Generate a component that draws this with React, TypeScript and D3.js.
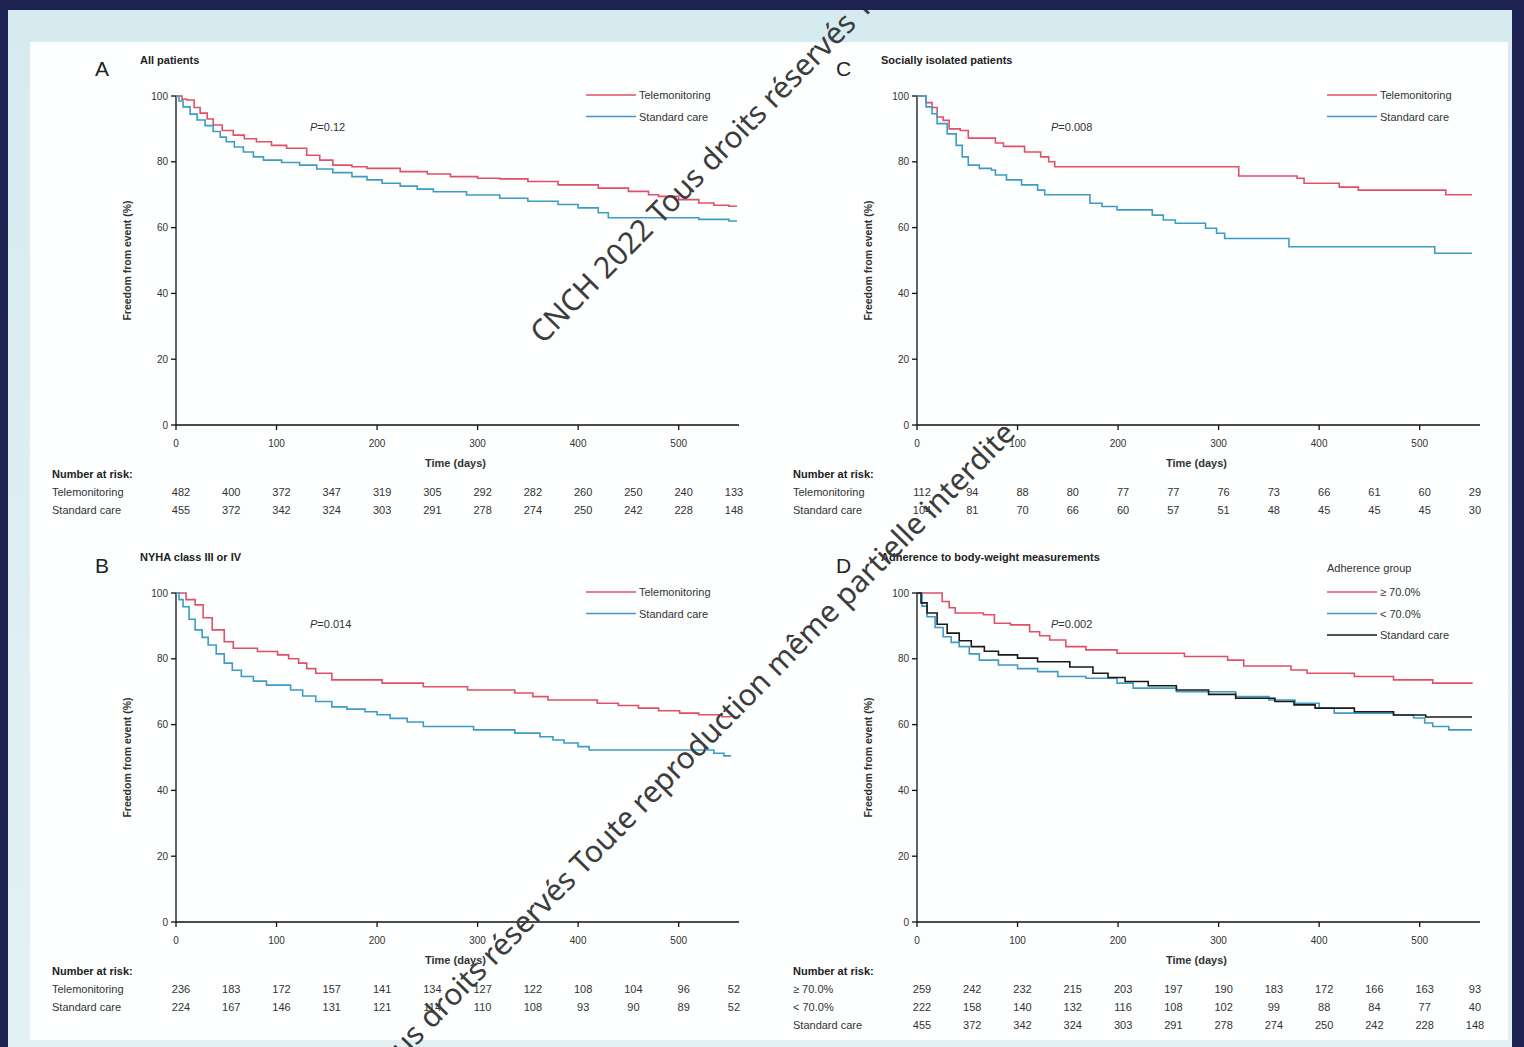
import React from "react";
import * as d3 from "d3";

// ---------- data ----------
const riskDays = [0, 50, 100, 150, 200, 250, 300, 350, 400, 450, 500, 550];
const timeTicks = [0, 100, 200, 300, 400, 500];
const pctTicks = [0, 20, 40, 60, 80, 100];

type Pt = [number, number];

// Panel A – all patients
const aTele: Pt[] = [[0,100],[6,99],[11,98.8],[18,96.5],[24,94.8],[31,93],[37,91.2],[46,89.5],[57,88.1],[68,87],[80,86.1],[95,85],[110,84.1],[130,82],[143,80.5],[156,79],[175,78.5],[190,78],[223,77],[250,76.3],[273,75.5],[300,75],[322,74.8],[350,74],[380,73],[420,72],[450,71],[470,70],[480,69.5],[500,68.5],[520,67.5],[535,66.8],[550,66.5],[558,66.5]];
const aStd: Pt[] = [[0,100],[3,98.5],[7,96.7],[14,94.5],[21,92.7],[29,91],[37,89.2],[44,87.5],[50,86.1],[58,84.5],[67,83],[77,81.5],[87,80.5],[105,79.8],[123,79],[140,77.8],[156,76.7],[175,75.5],[190,74.5],[205,73.5],[223,72.6],[240,71.7],[256,70.9],[289,69.9],[322,68.9],[350,68],[380,67],[400,66],[420,64.5],[430,63],[500,63],[520,62.5],[550,62],[558,62]];

// Panel B – NYHA class III or IV
const bTele: Pt[] = [[0,100],[10,98],[19,96.4],[27,92.5],[36,88.8],[48,85.2],[57,83.2],[81,82.2],[101,81.2],[112,80],[122,78.7],[130,77],[139,75.6],[155,73.6],[205,72.6],[246,71.5],[290,70.5],[337,69.6],[355,68.5],[370,67.5],[419,66.5],[440,65.8],[460,65],[480,64.2],[501,63.5],[520,63],[543,62.4],[552,62.4]];
const bStd: Pt[] = [[0,100],[3,98],[7,95.8],[13,92],[19,88.8],[26,86.5],[32,84.2],[40,81.5],[48,78.7],[56,76.5],[65,74.6],[77,73.2],[90,72],[114,70.5],[126,68.7],[139,67],[155,65.4],[170,64.7],[188,63.9],[200,63],[213,61.9],[230,60.8],[246,59.4],[296,58.4],[337,57.4],[362,56.3],[375,55.3],[386,54.4],[400,53.3],[411,52.3],[535,51.3],[545,50.5],[552,50.5]];

// Panel C – socially isolated patients
const cTele: Pt[] = [[0,100],[9,98],[15,96.5],[20,93.6],[26,92.6],[32,90],[43,89.5],[51,87.2],[78,85.7],[86,84.7],[107,83],[123,81.5],[131,80],[137,78.5],[317,78.5],[320,75.7],[378,75],[385,73.5],[420,72.3],[439,71.4],[526,70],[552,70]];
const cStd: Pt[] = [[0,100],[9,96.7],[15,94.6],[20,91.6],[30,88.5],[39,85],[45,81.5],[51,79],[62,78],[74,77.5],[78,76],[89,74.5],[104,73],[120,71.4],[127,70],[172,67.4],[184,66.4],[199,65.4],[234,63.8],[245,62.3],[257,61.3],[287,59.8],[298,58.3],[306,56.7],[370,54.2],[515,52.2],[552,52.2]];

// Panel D – adherence to body-weight measurements
const dHigh: Pt[] = [[0,100],[25,97.4],[32,95.5],[38,93.9],[66,93.4],[77,90.8],[93,90.3],[112,88.2],[122,87],[132,85.7],[148,83.7],[168,82.7],[199,81.7],[266,80.7],[309,79.6],[325,77.8],[372,76.6],[388,75.6],[435,74.6],[474,73.6],[513,72.6],[552,72.4]];
const dLow: Pt[] = [[0,100],[5,96],[10,92.8],[18,89.5],[26,86.7],[34,85],[42,83.7],[52,81.5],[62,79.6],[81,78.1],[100,77],[120,76.1],[140,74.6],[168,74.1],[199,72.6],[215,71.1],[258,70],[317,68.5],[350,67.5],[376,66.5],[400,65],[415,63.5],[474,62.9],[494,62],[505,60.5],[513,59.4],[529,58.4],[552,58.4]];
const dStd: Pt[] = [[0,100],[4,97],[10,93.9],[20,90.5],[30,87.8],[42,85.5],[54,83.7],[67,82.3],[81,81.2],[100,80.2],[120,79.1],[152,77.5],[175,75.6],[190,74.3],[207,73.1],[230,71.8],[258,70.5],[290,69.2],[317,68],[356,67],[375,66],[396,65],[435,63.9],[474,62.9],[506,62.3],[552,62.3]];

// Numbers at risk
const riskATele = [482, 400, 372, 347, 319, 305, 292, 282, 260, 250, 240, 133];
const riskAStd = [455, 372, 342, 324, 303, 291, 278, 274, 250, 242, 228, 148];
const riskBTele = [236, 183, 172, 157, 141, 134, 127, 122, 108, 104, 96, 52];
const riskBStd = [224, 167, 146, 131, 121, 114, 110, 108, 93, 90, 89, 52];
const riskCTele = [112, 94, 88, 80, 77, 77, 76, 73, 66, 61, 60, 29];
const riskCStd = [104, 81, 70, 66, 60, 57, 51, 48, 45, 45, 45, 30];
const riskDHigh = [259, 242, 232, 215, 203, 197, 190, 183, 172, 166, 163, 93];
const riskDLow = [222, 158, 140, 132, 116, 108, 102, 99, 88, 84, 77, 40];
const riskDStd = [455, 372, 342, 324, 303, 291, 278, 274, 250, 242, 228, 148];

const RED = "#e0506a";
const BLUE = "#3d9cc4";
const BLACK = "#1a1a1a";
const TXT = "#333";
const FONT = "'Liberation Sans', Arial, sans-serif";

type Series = { name: string; color: string; data: Pt[] };
type RiskRow = { label: string; values: number[] };

type PanelProps = {
  axisX: number;
  top: number;
  letter: string;
  title: string;
  pText: string;
  series: Series[];
  legendTitle?: string;
  risk: RiskRow[];
  labelX: number;
};

function Panel({ axisX, top, letter, title, pText, series, legendTitle, risk, labelX }: PanelProps) {
  const bottom = top + 329;
  const x = d3.scaleLinear().domain([0, 560]).range([axisX, axisX + 563]);
  const y = d3.scaleLinear().domain([0, 100]).range([bottom, top]);
  const line = d3
    .line<Pt>()
    .x((d) => x(d[0]))
    .y((d) => y(d[1]))
    .curve(d3.curveStepAfter);
  const legX = axisX + 410;
  const legY0 = top - 1;
  return (
    <g fontFamily={FONT} fill={TXT}>
      <text x={axisX - 81} y={top - 20} fontSize={21} fill="#222">{letter}</text>
      <text x={axisX - 36} y={top - 32} fontSize={11} fontWeight="bold" fill="#222">{title}</text>
      {/* y axis */}
      <line x1={axisX} x2={axisX} y1={y(100)} y2={y(0)} stroke="#111" strokeWidth={1.3} />
      {pctTicks.map((t) => (
        <g key={"y" + t}>
          <line x1={axisX - 5} x2={axisX} y1={y(t)} y2={y(t)} stroke="#111" strokeWidth={1.3} />
          <text x={axisX - 8} y={y(t) + 3.5} fontSize={10} textAnchor="end">{t}</text>
        </g>
      ))}
      <text
        transform={`translate(${axisX - 45},${(top + bottom) / 2}) rotate(-90)`}
        textAnchor="middle"
        fontSize={10.5}
        fontWeight="bold"
      >
        Freedom from event (%)
      </text>
      {/* x axis */}
      <line x1={x(0)} x2={x(560)} y1={bottom} y2={bottom} stroke="#111" strokeWidth={1.3} />
      {timeTicks.map((t) => (
        <g key={"x" + t}>
          <line x1={x(t)} x2={x(t)} y1={bottom} y2={bottom + 5} stroke="#111" strokeWidth={1.3} />
          <text x={x(t)} y={bottom + 22} fontSize={10} textAnchor="middle">{t}</text>
        </g>
      ))}
      <text x={x(278)} y={bottom + 42} fontSize={11} fontWeight="bold" textAnchor="middle">Time (days)</text>
      {/* curves */}
      {series.map((s) => (
        <path key={s.name} d={line(s.data) || ""} fill="none" stroke={s.color} strokeWidth={1.6} />
      ))}
      {/* p-value */}
      <text x={axisX + 134} y={top + 35} fontSize={11}>
        <tspan fontStyle="italic">P</tspan>=
        {pText}
      </text>
      {/* legend */}
      {legendTitle && (
        <text x={legX} y={top - 21} fontSize={11}>{legendTitle}</text>
      )}
      {series.map((s, i) => (
        <g key={"l" + s.name}>
          <line x1={legX} x2={legX + 50} y1={legY0 + i * 21.5} y2={legY0 + i * 21.5} stroke={s.color} strokeWidth={1.6} />
          <text x={legX + 53} y={legY0 + i * 21.5 + 4} fontSize={11}>{s.name}</text>
        </g>
      ))}
      {/* number at risk */}
      <text x={labelX} y={bottom + 53} fontSize={11} fontWeight="bold" fill="#222">Number at risk:</text>
      {risk.map((r, ri) => (
        <g key={"r" + ri}>
          <text x={labelX} y={bottom + 71 + ri * 18} fontSize={11}>{r.label}</text>
          {r.values.map((v, vi) => (
            <text key={vi} x={x(riskDays[vi]) + 5} y={bottom + 71 + ri * 18} fontSize={11} textAnchor="middle">
              {v}
            </text>
          ))}
        </g>
      ))}
    </g>
  );
}

const wmText = "CNCH 2022 Tous droits réservés Toute reproduction même partielle interdite";

export default function App() {
  return (
    <svg width={1524} height={1047} style={{ display: "block", position: "absolute", left: 0, top: 0 }}>
      <defs>
        <linearGradient id="bg" x1="0" y1="0" x2="0" y2="1">
          <stop offset="0" stopColor="#d6ebf0" />
          <stop offset="1" stopColor="#e4f1f4" />
        </linearGradient>
        <clipPath id="inner">
          <rect x={8} y={10} width={1504} height={1037} />
        </clipPath>
      </defs>
      <rect x={0} y={0} width={1524} height={1047} fill="#1d2251" />
      <rect x={8} y={10} width={1504} height={1037} fill="url(#bg)" />
      <rect x={30} y={42} width={1478} height={998} fill="#fdfefe" />

      <Panel
        axisX={176}
        top={96}
        letter="A"
        title="All patients"
        pText="0.12"
        labelX={52}
        series={[
          { name: "Telemonitoring", color: RED, data: aTele },
          { name: "Standard care", color: BLUE, data: aStd },
        ]}
        risk={[
          { label: "Telemonitoring", values: riskATele },
          { label: "Standard care", values: riskAStd },
        ]}
      />
      <Panel
        axisX={176}
        top={593}
        letter="B"
        title="NYHA class III or IV"
        pText="0.014"
        labelX={52}
        series={[
          { name: "Telemonitoring", color: RED, data: bTele },
          { name: "Standard care", color: BLUE, data: bStd },
        ]}
        risk={[
          { label: "Telemonitoring", values: riskBTele },
          { label: "Standard care", values: riskBStd },
        ]}
      />
      <Panel
        axisX={917}
        top={96}
        letter="C"
        title="Socially isolated patients"
        pText="0.008"
        labelX={793}
        series={[
          { name: "Telemonitoring", color: RED, data: cTele },
          { name: "Standard care", color: BLUE, data: cStd },
        ]}
        risk={[
          { label: "Telemonitoring", values: riskCTele },
          { label: "Standard care", values: riskCStd },
        ]}
      />
      <Panel
        axisX={917}
        top={593}
        letter="D"
        title="Adherence to body-weight measurements"
        pText="0.002"
        labelX={793}
        legendTitle="Adherence group"
        series={[
          { name: "≥ 70.0%", color: RED, data: dHigh },
          { name: "< 70.0%", color: BLUE, data: dLow },
          { name: "Standard care", color: BLACK, data: dStd },
        ]}
        risk={[
          { label: "≥ 70.0%", values: riskDHigh },
          { label: "< 70.0%", values: riskDLow },
          { label: "Standard care", values: riskDStd },
        ]}
      />

      {/* watermarks */}
      <g clipPath="url(#inner)" fontFamily="'Noto Sans', 'Open Sans', sans-serif" fontSize={30} fill="#3c3c3c">
        <text transform="translate(543,345) rotate(-45.5)">{wmText}</text>
        <text transform="translate(263,1202) rotate(-45.5)">{wmText}</text>
      </g>
    </svg>
  );
}
